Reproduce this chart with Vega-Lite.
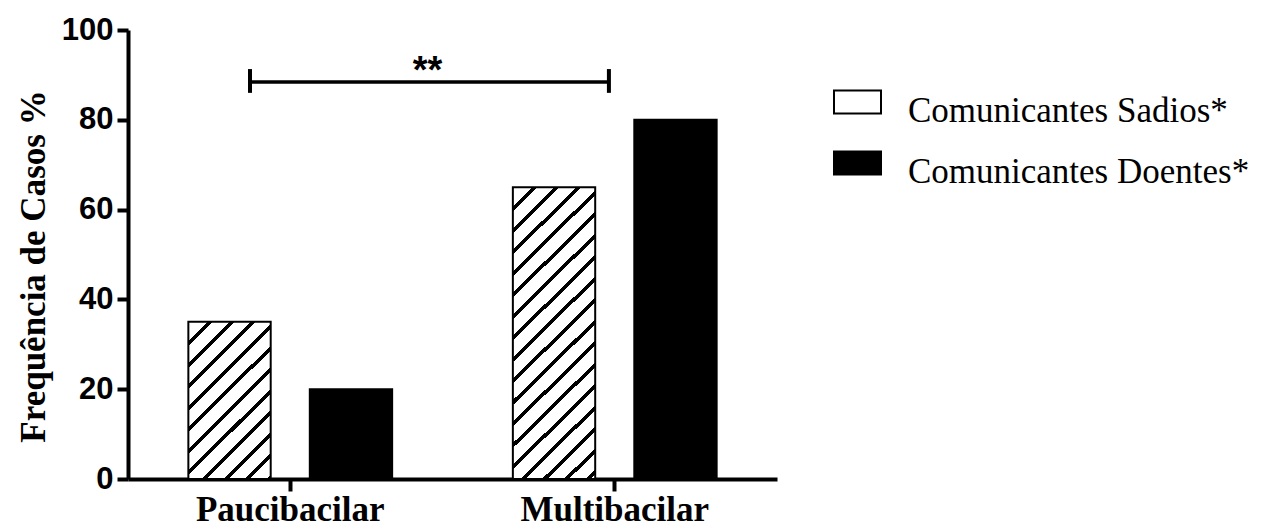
{
  "$schema": "https://vega.github.io/schema/vega-lite/v6.json",
  "width": 649,
  "height": 449,
  "autosize": "none",
  "padding": {"left": 128, "top": 30, "right": 487, "bottom": 50},
  "background": "white",
  "config": {"view": {"stroke": null}},
  "resolve": {"scale": {"x": "independent"}, "axis": {"x": "independent"}},
  "layer": [
    {
      "data": {"values": [
        {"grupo": "Paucibacilar", "serie": "Comunicantes Sadios", "pct": 35},
        {"grupo": "Paucibacilar", "serie": "Comunicantes Doentes", "pct": 20},
        {"grupo": "Multibacilar", "serie": "Comunicantes Sadios", "pct": 65},
        {"grupo": "Multibacilar", "serie": "Comunicantes Doentes", "pct": 80}
      ]},
      "mark": {"type": "bar", "stroke": "black", "strokeWidth": 2},
      "encoding": {
        "x": {
          "field": "grupo", "type": "nominal", "sort": ["Paucibacilar", "Multibacilar"],
          "scale": {"paddingInner": 0.372, "paddingOuter": 0.186},
          "axis": {"title": null, "labelFont": "Liberation Serif", "labelFontWeight": "bold", "labelFontSize": 35, "labelColor": "black", "labelPadding": 1, "labelAngle": 0, "tickSize": 12, "tickWidth": 4, "tickColor": "black", "domainColor": "black", "domainWidth": 4, "labelLimit": 0}
        },
        "xOffset": {
          "field": "serie", "type": "nominal", "sort": ["Comunicantes Sadios", "Comunicantes Doentes"],
          "scale": {"paddingInner": 0.322, "paddingOuter": 0}
        },
        "y": {
          "field": "pct", "type": "quantitative", "title": "Frequência de Casos %",
          "scale": {"domain": [0, 100], "nice": false},
          "axis": {"values": [0, 20, 40, 60, 80, 100], "grid": false, "labelFont": "Liberation Sans", "labelFontWeight": "bold", "labelFontSize": 31, "labelColor": "black", "labelPadding": 4, "tickSize": 11, "tickWidth": 4, "tickColor": "black", "domainColor": "black", "domainWidth": 4, "titleFont": "Liberation Serif", "titleFontSize": 35, "titleFontWeight": "bold", "titleColor": "black", "titlePadding": 10, "titleY": 236}
        },
        "fill": {
          "field": "serie", "type": "nominal",
          "scale": {"domain": ["Comunicantes Sadios", "Comunicantes Doentes"], "range": ["white", "black"]},
          "legend": {
            "orient": "none", "legendX": 705, "legendY": 47.5, "title": null, "padding": 0,
            "symbolType": "M-1,-0.49H1V0.49H-1Z", "symbolSize": 2209,
            "symbolStrokeColor": "black", "symbolStrokeWidth": 2,
            "labelFont": "Liberation Serif", "labelFontSize": 35, "labelColor": "black",
            "labelOffset": 26, "labelLimit": 0, "rowPadding": 9,
            "labelExpr": "datum.label + '*'",
            "encode": {
              "symbols": {"update": {
                "stroke": {"value": "black"},
                "strokeWidth": {"value": 2},
                "fill": [
                  {"test": "datum.value === 'Comunicantes Sadios'", "value": {"gradient": "linear", "x1": 0, "y1": 0, "x2": 1.2015, "y2": 0.588, "stops": [
                    {"offset": 0, "color": "white"},
                    {"offset": 0.2714, "color": "white"}, {"offset": 0.2714, "color": "black"}, {"offset": 0.3571, "color": "black"}, {"offset": 0.3571, "color": "white"},
                    {"offset": 0.5857, "color": "white"}, {"offset": 0.5857, "color": "black"}, {"offset": 0.6714, "color": "black"}, {"offset": 0.6714, "color": "white"},
                    {"offset": 0.9, "color": "white"}, {"offset": 0.9, "color": "black"}, {"offset": 0.9857, "color": "black"}, {"offset": 0.9857, "color": "white"},
                    {"offset": 1, "color": "white"}
                  ]}},
                  {"value": "black"}
                ]
              }},
              "labels": {"update": {"dy": {"value": 9}}}
            }
          },
          "condition": [
            {"test": "datum['serie'] === 'Comunicantes Sadios' && datum['grupo'] === 'Paucibacilar'", "value": {"gradient": "linear", "x1": 0, "y1": 0, "x2": 0.6247, "y2": 1.196, "stops": [
              {"offset": 0, "color": "white"},
              {"offset": 0.0816, "color": "white"}, {"offset": 0.0816, "color": "black"}, {"offset": 0.1025, "color": "black"}, {"offset": 0.1025, "color": "white"},
              {"offset": 0.1715, "color": "white"}, {"offset": 0.1715, "color": "black"}, {"offset": 0.1925, "color": "black"}, {"offset": 0.1925, "color": "white"},
              {"offset": 0.2615, "color": "white"}, {"offset": 0.2615, "color": "black"}, {"offset": 0.2824, "color": "black"}, {"offset": 0.2824, "color": "white"},
              {"offset": 0.3515, "color": "white"}, {"offset": 0.3515, "color": "black"}, {"offset": 0.3724, "color": "black"}, {"offset": 0.3724, "color": "white"},
              {"offset": 0.4414, "color": "white"}, {"offset": 0.4414, "color": "black"}, {"offset": 0.4623, "color": "black"}, {"offset": 0.4623, "color": "white"},
              {"offset": 0.5314, "color": "white"}, {"offset": 0.5314, "color": "black"}, {"offset": 0.5523, "color": "black"}, {"offset": 0.5523, "color": "white"},
              {"offset": 0.6213, "color": "white"}, {"offset": 0.6213, "color": "black"}, {"offset": 0.6423, "color": "black"}, {"offset": 0.6423, "color": "white"},
              {"offset": 0.7113, "color": "white"}, {"offset": 0.7113, "color": "black"}, {"offset": 0.7322, "color": "black"}, {"offset": 0.7322, "color": "white"},
              {"offset": 0.8013, "color": "white"}, {"offset": 0.8013, "color": "black"}, {"offset": 0.8222, "color": "black"}, {"offset": 0.8222, "color": "white"},
              {"offset": 0.8912, "color": "white"}, {"offset": 0.8912, "color": "black"}, {"offset": 0.9121, "color": "black"}, {"offset": 0.9121, "color": "white"},
              {"offset": 0.9812, "color": "white"}, {"offset": 0.9812, "color": "black"}, {"offset": 1, "color": "black"}
            ]}},
            {"test": "datum['serie'] === 'Comunicantes Sadios' && datum['grupo'] === 'Multibacilar'", "value": {"gradient": "linear", "x1": 0, "y1": 0, "x2": 0.3292, "y2": 1.1865, "stops": [
              {"offset": 0, "color": "white"},
              {"offset": 0.0523, "color": "white"}, {"offset": 0.0523, "color": "black"}, {"offset": 0.0657, "color": "black"}, {"offset": 0.0657, "color": "white"},
              {"offset": 0.1099, "color": "white"}, {"offset": 0.1099, "color": "black"}, {"offset": 0.1233, "color": "black"}, {"offset": 0.1233, "color": "white"},
              {"offset": 0.1676, "color": "white"}, {"offset": 0.1676, "color": "black"}, {"offset": 0.181, "color": "black"}, {"offset": 0.181, "color": "white"},
              {"offset": 0.2252, "color": "white"}, {"offset": 0.2252, "color": "black"}, {"offset": 0.2386, "color": "black"}, {"offset": 0.2386, "color": "white"},
              {"offset": 0.2828, "color": "white"}, {"offset": 0.2828, "color": "black"}, {"offset": 0.2962, "color": "black"}, {"offset": 0.2962, "color": "white"},
              {"offset": 0.3405, "color": "white"}, {"offset": 0.3405, "color": "black"}, {"offset": 0.3539, "color": "black"}, {"offset": 0.3539, "color": "white"},
              {"offset": 0.3981, "color": "white"}, {"offset": 0.3981, "color": "black"}, {"offset": 0.4115, "color": "black"}, {"offset": 0.4115, "color": "white"},
              {"offset": 0.4558, "color": "white"}, {"offset": 0.4558, "color": "black"}, {"offset": 0.4692, "color": "black"}, {"offset": 0.4692, "color": "white"},
              {"offset": 0.5134, "color": "white"}, {"offset": 0.5134, "color": "black"}, {"offset": 0.5268, "color": "black"}, {"offset": 0.5268, "color": "white"},
              {"offset": 0.571, "color": "white"}, {"offset": 0.571, "color": "black"}, {"offset": 0.5845, "color": "black"}, {"offset": 0.5845, "color": "white"},
              {"offset": 0.6287, "color": "white"}, {"offset": 0.6287, "color": "black"}, {"offset": 0.6421, "color": "black"}, {"offset": 0.6421, "color": "white"},
              {"offset": 0.6863, "color": "white"}, {"offset": 0.6863, "color": "black"}, {"offset": 0.6997, "color": "black"}, {"offset": 0.6997, "color": "white"},
              {"offset": 0.744, "color": "white"}, {"offset": 0.744, "color": "black"}, {"offset": 0.7574, "color": "black"}, {"offset": 0.7574, "color": "white"},
              {"offset": 0.8016, "color": "white"}, {"offset": 0.8016, "color": "black"}, {"offset": 0.815, "color": "black"}, {"offset": 0.815, "color": "white"},
              {"offset": 0.8592, "color": "white"}, {"offset": 0.8592, "color": "black"}, {"offset": 0.8727, "color": "black"}, {"offset": 0.8727, "color": "white"},
              {"offset": 0.9169, "color": "white"}, {"offset": 0.9169, "color": "black"}, {"offset": 0.9303, "color": "black"}, {"offset": 0.9303, "color": "white"},
              {"offset": 0.9745, "color": "white"}, {"offset": 0.9745, "color": "black"}, {"offset": 0.9879, "color": "black"}, {"offset": 0.9879, "color": "white"},
              {"offset": 1, "color": "white"}
            ]}}
          ]
        }
      }
    },
    {
      "data": {"values": [{"xa": 0.376, "xb": 1.482, "pct": 88.4}]},
      "mark": {"type": "rule", "stroke": "black", "strokeWidth": 3.5},
      "encoding": {
        "x": {"field": "xa", "type": "quantitative", "scale": {"domain": [0, 2], "nice": false, "zero": false}, "axis": null},
        "x2": {"field": "xb"},
        "y": {"field": "pct", "type": "quantitative", "title": "Frequência de Casos %", "scale": {"domain": [0, 100], "nice": false}}
      }
    },
    {
      "data": {"values": [{"xa": 0.376, "pct": 86.0, "pct2": 91.3}, {"xa": 1.482, "pct": 86.0, "pct2": 91.3}]},
      "mark": {"type": "rule", "stroke": "black", "strokeWidth": 4},
      "encoding": {
        "x": {"field": "xa", "type": "quantitative", "scale": {"domain": [0, 2], "nice": false, "zero": false}, "axis": null},
        "y": {"field": "pct", "type": "quantitative", "title": "Frequência de Casos %", "scale": {"domain": [0, 100], "nice": false}},
        "y2": {"field": "pct2"}
      }
    },
    {
      "data": {"values": [{"xa": 0.923, "pct": 88.2, "label": "**"}]},
      "mark": {"type": "text", "font": "Liberation Sans", "fontWeight": "bold", "fontSize": 38, "baseline": "alphabetic", "align": "center", "color": "black"},
      "encoding": {
        "x": {"field": "xa", "type": "quantitative", "scale": {"domain": [0, 2], "nice": false, "zero": false}, "axis": null},
        "y": {"field": "pct", "type": "quantitative", "title": "Frequência de Casos %", "scale": {"domain": [0, 100], "nice": false}},
        "text": {"field": "label"}
      }
    }
  ]
}
